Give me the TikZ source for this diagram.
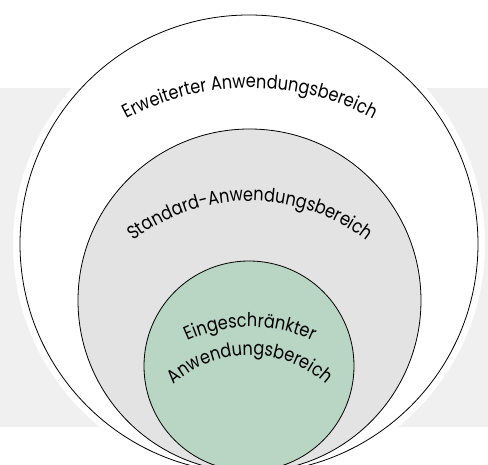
\documentclass[tikz,border=0pt]{standalone}
\usepackage{fontspec}
\setmainfont{Poppins}[FakeStretch=0.85]
\usetikzlibrary{decorations.text}
\definecolor{bandgray}{HTML}{F0F0F0}
\definecolor{midgray}{HTML}{E3E3E3}
\definecolor{sage}{HTML}{B9D5C3}
\newcommand\labelfont{\fontsize{19}{22}\selectfont}
\begin{document}
\begin{tikzpicture}[x=1pt,y=1pt,
  ring/.style={draw=black,line width=0.8pt},
  arctext/.style={decorate,decoration={text along path,text align=center,
    text={|\labelfont|#1}}}]
\useasboundingbox (0,0) rectangle (488,465);
% background band
\fill [bandgray] (0,38) rectangle (488,377);
% circles
\fill [white] (249,221) circle (236pt);
\draw [ring,fill=white] (249,221) circle (229pt);
\draw [ring,fill=midgray] (249.5,164.5) circle (171.5pt);
\draw [ring,fill=sage] (249,99) circle (105pt);
% labels
\path [arctext={Erweiterter Anwendungsbereich}] (250,117) ++(125:260pt) arc [start angle=125,end angle=55,radius=260pt];
\path [arctext={Standard-Anwendungsbereich}] (250,73) ++(140:191pt) arc [start angle=140,end angle=40,radius=191pt];
\path [arctext={Eingeschränkter}] (250,-10) ++(125:148pt) arc [start angle=125,end angle=55,radius=148pt];
\path [arctext={Anwendungsbereich}] (250,-3) ++(145:113pt) arc [start angle=145,end angle=35,radius=113pt];
\end{tikzpicture}
\end{document}
